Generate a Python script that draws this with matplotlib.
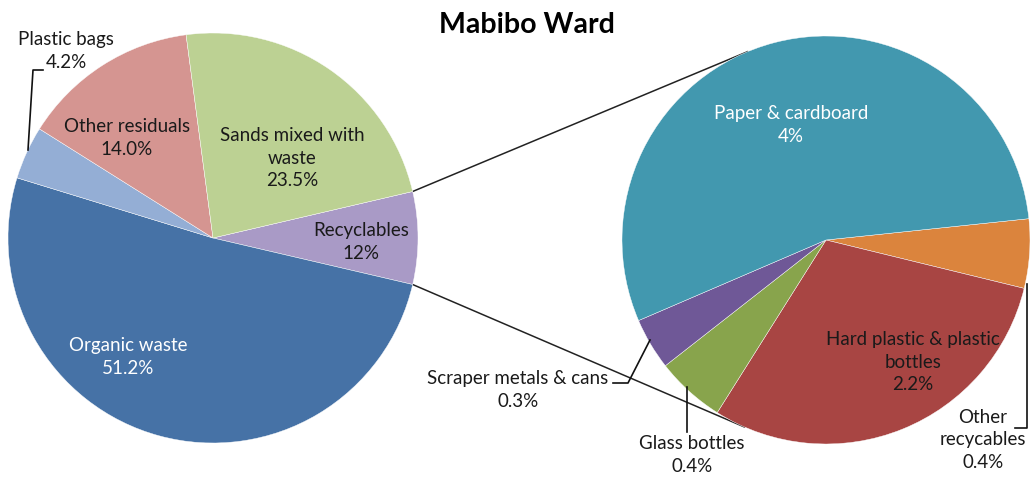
import numpy as np
import matplotlib
matplotlib.use('Agg')
import matplotlib.pyplot as plt

plt.rcParams['font.family'] = ['Lato', 'DejaVu Sans']

# -------------------------------------------------------------------------------
# main pie (Recyclables is drawn with the sum of the breakdown below)
main_labels = ['Recyclables', 'Organic waste', 'Plastic bags', 'Other residuals',
               'Sands mixed with\nwaste']
main_pct_text = ['12%', '51.2%', '4.2%', '14.0%', '23.5%']
main_values = [7.3, 51.2, 4.2, 14.0, 23.5]
main_colors = ['#a99ac6', '#4672a6', '#94aed5', '#d59591', '#bcd193']

# breakdown of recyclables
sub_labels = ['Other\nrecycables', 'Hard plastic & plastic\nbottles', 'Glass bottles',
              'Scraper metals & cans', 'Paper & cardboard']
sub_values = [0.4, 2.2, 0.4, 0.3, 4.0]
sub_pct_text = ['0.4%', '2.2%', '0.4%', '0.3%', '4%']
sub_colors = ['#db843d', '#a84543', '#88a44c', '#6f5897', '#4298af']

# -------------------------------------------------------------------------------
W, H = 1030, 488
fig = plt.figure(figsize=(W / 100, H / 100), dpi=100)
ax = fig.add_axes([0, 0, 1, 1])

def py(y):
    # pixel row -> data y
    return H - y

c1, r1 = (213, py(238)), 205
c2, r2 = (826, py(240)), 204

start1 = main_values[0] / sum(main_values) * 360 / 2
w1, _ = ax.pie(main_values, colors=main_colors, startangle=start1, counterclock=False,
               center=c1, radius=r1, frame=True,
               wedgeprops=dict(edgecolor='white', linewidth=0.3))
start2 = 6
w2, _ = ax.pie(sub_values, colors=sub_colors, startangle=start2, counterclock=False,
               center=c2, radius=r2, frame=True,
               wedgeprops=dict(edgecolor='white', linewidth=0.3))
ax.set_xlim(0, W)
ax.set_ylim(0, H)
ax.set_aspect('equal')
ax.axis('off')

# connector lines between the recyclables slice and the second pie
rec = w1[0]
for th1, th2 in [(rec.theta2, 112.6), (rec.theta1, -113.6)]:
    x1 = c1[0] + r1 * np.cos(np.radians(th1))
    y1 = c1[1] + r1 * np.sin(np.radians(th1))
    x2 = c2[0] + r2 * np.cos(np.radians(th2))
    y2 = c2[1] + r2 * np.sin(np.radians(th2))
    ax.plot([x1, x2], [y1, y2], color='#222222', lw=1.1, zorder=0.5)

fs = 13.5
def lab(x, y, s, color='#1a1a1a', ha='center'):
    ax.text(x, py(y), s, ha=ha, va='center', fontsize=fs, color=color,
            linespacing=1.4, zorder=5)

# main pie labels
lab(361, 242, main_labels[0] + '\n' + main_pct_text[0])
lab(128, 357, main_labels[1] + '\n' + main_pct_text[1], color='white')
lab(66, 51, main_labels[2] + '\n' + main_pct_text[2])
lab(127, 138, main_labels[3] + '\n' + main_pct_text[3])
lab(292, 158, main_labels[4] + '\n' + main_pct_text[4])

# second pie labels
lab(983, 440, sub_labels[0] + '\n' + sub_pct_text[0])
lab(913, 362, sub_labels[1] + '\n' + sub_pct_text[1])
lab(692, 455, sub_labels[2] + '\n' + sub_pct_text[2])
lab(518, 390, sub_labels[3] + '\n' + sub_pct_text[3])
lab(791, 125, sub_labels[4] + '\n' + sub_pct_text[4], color='white')

# leader lines
leaders = [
    [(28, 150), (33, 70), (43, 70)],
    [(613, 383), (628, 383), (650, 340)],
    [(687, 387), (687, 432)],
    [(1015, 428), (1027, 428), (1027, 284)],
]
for pts in leaders:
    xs = [p[0] for p in pts]
    ys = [py(p[1]) for p in pts]
    ax.plot(xs, ys, color='#111111', lw=1.2, zorder=4)

ax.text(527, py(25), 'Mabibo Ward', ha='center', va='center', fontsize=20.5,
        fontweight='bold', color='black')

fig.savefig('out.png', dpi=100)
